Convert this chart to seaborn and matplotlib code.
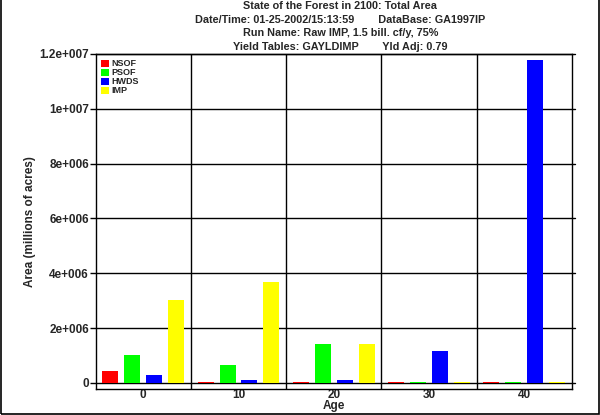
import matplotlib
matplotlib.use("Agg")
import matplotlib.pyplot as plt
import seaborn as sns
import pandas as pd
from matplotlib.patches import Rectangle

ages = ["0", "10", "20", "30", "40"]
series = ["NSOF", "PSOF", "HWDS", "IMP"]
nsof = [0.45e6, 0.05e6, 0.04e6, 0.04e6, 0.04e6]
psof = [1.03e6, 0.66e6, 1.43e6, 0.04e6, 0.04e6]
hwds = [0.30e6, 0.09e6, 0.12e6, 1.17e6, 11.78e6]
imp = [3.04e6, 3.70e6, 1.43e6, 0.04e6, 0.04e6]
colors = ["#ff0000", "#00ff00", "#0000ff", "#ffff00"]
yticks = [0, 2e6, 4e6, 6e6, 8e6, 1e7, 1.2e7]
ytick_labels = ["0", "2e+006", "4e+006", "6e+006", "8e+006", "1e+007", "1.2e+007"]
title_lines = [
    "State of the Forest in 2100: Total Area",
    "Date/Time: 01-25-2002/15:13:59        DataBase: GA1997IP",
    "Run Name: Raw IMP, 1.5 bill. cf/y, 75%",
    "Yield Tables: GAYLDIMP        Yld Adj: 0.79",
]

rows = []
for name, vals in zip(series, [nsof, psof, hwds, imp]):
    for a, v in zip(ages, vals):
        rows.append({"Age": a, "Series": name, "Area": v})
df = pd.DataFrame(rows)

sns.set_style("white")
plt.rcParams["font.family"] = ["Liberation Sans", "DejaVu Sans"]
plt.rcParams["font.weight"] = "bold"

fig = plt.figure(figsize=(6.0, 4.15), dpi=100)
ax = fig.add_axes([0.1595, 0.0627, 0.7935, 0.8072])

sns.barplot(data=df, x="Age", y="Area", hue="Series", order=ages, hue_order=series,
            palette=colors, width=0.92, gap=0.27, saturation=1, ax=ax, zorder=3,
            errorbar=None, linewidth=0, edgecolor="none")

ax.set_xlim(-0.5, 4.5)
ax.set_ylim(-0.22e6, 1.2e7)
ax.set_yticks(yticks)
ax.set_yticklabels(ytick_labels, fontsize=8.5, fontweight="bold")
ax.set_xticks(range(len(ages)))
ax.set_xticklabels(ages, fontsize=8.5, fontweight="bold")
for y in yticks:
    ax.axhline(y, color="black", lw=1, zorder=1, xmax=1.006, clip_on=False)
for x in [0.5, 1.5, 2.5, 3.5]:
    ax.axvline(x, color="black", lw=1, zorder=1)
for s in ax.spines.values():
    s.set_color("black")
    s.set_linewidth(1)
ax.tick_params(axis="y", length=4, width=1, color="black", pad=1, left=True)
ax.tick_params(axis="x", length=0, pad=0)
ax.set_xlabel("Age", fontsize=8.5, fontweight="bold", labelpad=-1)
ax.set_ylabel("Area (millions of acres)", fontsize=8.5, fontweight="bold", labelpad=2)

leg = ax.legend(loc="upper left", bbox_to_anchor=(0.0, 1.0), frameon=False,
                prop={"size": 6.5, "weight": "bold"}, handlelength=0.9, handleheight=0.9,
                handletextpad=0.2, labelspacing=0.0, borderaxespad=0.3, borderpad=0.3)

ys = [0.986, 0.953, 0.920, 0.887]
for t, y in zip(title_lines, ys):
    fig.text(0.567, y, t, ha="center", va="center", fontsize=7.8, fontweight="bold")

fig.patches.append(Rectangle((0.001, 0.002), 0.997, 1.2, transform=fig.transFigure,
                             fill=False, edgecolor="black", lw=1.2))

fig.savefig("out.png", dpi=100)
